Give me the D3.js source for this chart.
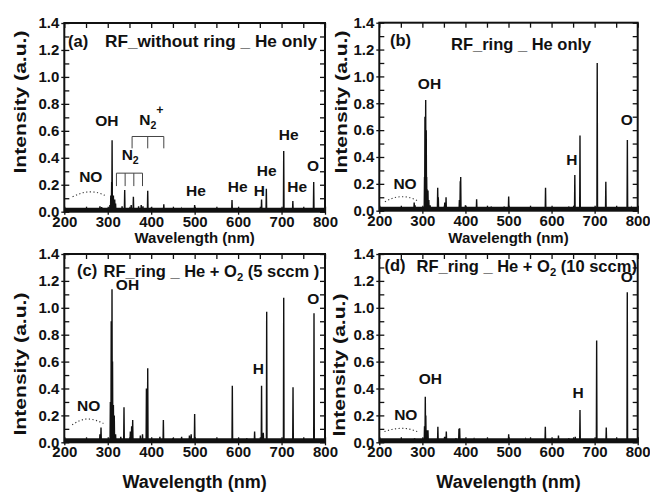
<!DOCTYPE html>
<html><head><meta charset="UTF-8"><title>OES spectra</title>
<script src="https://d3js.org/d3.v7.min.js"></script>
<style>
  body { margin: 0; background: #fff; }
  svg { display: block; }
  text { font-family: "Liberation Sans", Arial, sans-serif; font-weight: bold; fill: #111; }
</style></head><body>
<svg id="chart" width="650" height="493"></svg>
<script>
// axis ticks
const wlTicks = [200, 300, 400, 500, 600, 700, 800];
const wlMinor = [250, 350, 450, 550, 650, 750];
const intTicks = [0, 0.2, 0.4, 0.6, 0.8, 1.0, 1.2, 1.4];
const intMinor = [0.1, 0.3, 0.5, 0.7, 0.9, 1.1, 1.3];

// emission lines: [wavelength nm, intensity a.u.]
const peaksA = [[282, 0.04], [286, 0.035], [305, 0.05], [307, 0.12], [309, 0.22], [310, 0.53], [311, 0.1],
  [313, 0.12], [316, 0.09], [318, 0.06], [333, 0.04], [339, 0.16], [354, 0.05], [359, 0.11], [371, 0.04],
  [377, 0.05], [381, 0.04], [392, 0.155], [400, 0.03], [429, 0.055], [470, 0.02], [500, 0.05], [586, 0.087],
  [654, 0.09], [665, 0.17], [705, 0.45], [726, 0.08], [774, 0.22]];
const peaksB = [[281, 0.06], [283, 0.04], [305, 0.25], [306, 0.7], [307.7, 0.824], [309, 0.6], [310, 0.25],
  [311, 0.16], [313, 0.15], [315, 0.08], [318, 0.04], [335.6, 0.17], [337, 0.1], [352, 0.06], [355, 0.1],
  [386, 0.08], [388, 0.22], [389, 0.25], [400, 0.04], [426, 0.085], [460, 0.03], [490, 0.03], [500.4, 0.105],
  [586, 0.17], [640, 0.03], [654, 0.265], [666, 0.56], [706, 1.10], [726, 0.216], [776, 0.527], [785, 0.02]];
const peaksC = [[282, 0.06], [284.5, 0.11], [306, 0.3], [308, 0.9], [309.8, 1.137], [311, 0.6], [313, 0.277],
  [315, 0.2], [318, 0.06], [330, 0.04], [337.4, 0.26], [352, 0.08], [355, 0.12], [357.4, 0.166], [375, 0.05],
  [380, 0.06], [389, 0.4], [392, 0.55], [420, 0.04], [428, 0.166], [450, 0.03], [470, 0.04], [488, 0.05],
  [492, 0.06], [500, 0.21], [586.7, 0.42], [620, 0.03], [638, 0.08], [654, 0.42], [658, 0.07], [665.8, 0.97],
  [705, 1.075], [726.4, 0.41], [774.7, 0.96]];
const peaksD = [[282, 0.03], [305, 0.12], [306.8, 0.339], [308, 0.2], [310, 0.09], [313, 0.09], [336, 0.116],
  [352, 0.04], [355.6, 0.08], [378, 0.03], [385, 0.1], [386.6, 0.104], [420, 0.02], [500.4, 0.06], [540, 0.02],
  [585.5, 0.116], [616, 0.05], [640, 0.03], [655, 0.04], [666, 0.24], [704.7, 0.756], [727, 0.11], [775.8, 1.115]];

// dotted NO band outline
const noArcA = [[219, 0.11], [240, 0.138], [259, 0.147], [278, 0.14], [294, 0.12]];
const noArcB = [[213, 0.067], [232, 0.094], [252, 0.104], [272, 0.096], [290, 0.072]];
const noArcC = [[218, 0.13], [235, 0.16], [252, 0.173], [271, 0.165], [290, 0.14]];
const noArcD = [[212, 0.08], [231, 0.097], [251, 0.104], [270, 0.098], [288, 0.08]];

// band-head brackets in panel (a)
const n2Bracket = { ticks: [320, 340, 360, 380], top: 0.286, bottom: 0.19 };
const n2pBracket = { ticks: [356, 392, 429], top: 0.558, bottom: 0.47 };

// line labels: parts, wavelength, intensity (label centre)
const labelsA = [
  { parts: [['OH']], w: 298, i: 0.633 },
  { parts: [['N'], ['2', 'sub']], w: 332, i: 0.385, anchor: 'start' },
  { parts: [['N'], ['2', 'sub'], ['+', 'sup']], w: 372.4, i: 0.645, anchor: 'start' },
  { parts: [['NO']], w: 261, i: 0.217 },
  { parts: [['He']], w: 503, i: 0.118 },
  { parts: [['He']], w: 599, i: 0.143 },
  { parts: [['H']], w: 649, i: 0.118 },
  { parts: [['He']], w: 666, i: 0.267 },
  { parts: [['He']], w: 716.5, i: 0.53 },
  { parts: [['He']], w: 736, i: 0.149 },
  { parts: [['O']], w: 772.5, i: 0.305 }
];
const labelsB = [
  { parts: [['OH']], w: 316.5, i: 0.906 },
  { parts: [['NO']], w: 259.7, i: 0.162 },
  { parts: [['H']], w: 647, i: 0.34 },
  { parts: [['O']], w: 774.4, i: 0.638 }
];
const labelsC = [
  { parts: [['OH']], w: 345.4, i: 1.132 },
  { parts: [['NO']], w: 256, i: 0.234 },
  { parts: [['H']], w: 646.5, i: 0.51 },
  { parts: [['O']], w: 773, i: 1.03 }
];
const labelsD = [
  { parts: [['OH']], w: 318.5, i: 0.43 },
  { parts: [['NO']], w: 261.5, i: 0.167 },
  { parts: [['H']], w: 661.8, i: 0.327 },
  { parts: [['O']], w: 774.4, i: 1.19 }
];

const panels = [
  { left: 64.3, right: 325, top: 23, bottom: 211.7, peaks: peaksA, arc: noArcA, labels: labelsA,
    tag: '(a)', tagX: 68, tagY: 46.5, title: [['RF_without ring _ He only']], titleX: 105, titleY: 46.7, titleLen: 212,
    xTitleSize: 15, xTitleY: 243, yTitleX: 20, yTitleY: 102 },
  { left: 379.3, right: 637.7, top: 22.7, bottom: 210.7, peaks: peaksB, arc: noArcB, labels: labelsB,
    tag: '(b)', tagX: 390, tagY: 46, title: [['RF_ring _ He only']], titleX: 451, titleY: 50,
    xTitleSize: 15, xTitleY: 243, yTitleX: 340.5, yTitleY: 102 },
  { left: 64.3, right: 325, top: 254, bottom: 442.3, peaks: peaksC, arc: noArcC, labels: labelsC,
    tag: '(c)', tagX: 77, tagY: 275.5, title: [['RF_ring _ He + O'], ['2', 'sub'], [' (5 sccm )']], titleX: 103.5, titleY: 276.7,
    xTitleSize: 18, xTitleY: 488, yTitleX: 20, yTitleY: 364 },
  { left: 379.3, right: 637.7, top: 254, bottom: 442.3, peaks: peaksD, arc: noArcD, labels: labelsD,
    tag: '(d)', tagX: 384.5, tagY: 271, title: [['RF_ring _ He + O'], ['2', 'sub'], [' (10 sccm)']], titleX: 416.5, titleY: 271.7,
    xTitleSize: 18, xTitleY: 488, yTitleX: 338.5, yTitleY: 365 }
];

const svg = d3.select('#chart');

function richText(sel, parts, size) {
  parts.forEach(([t, mode]) => {
    const ts = sel.append('tspan').text(t);
    if (mode === 'sub') ts.attr('font-size', size * 0.68).attr('dy', size * 0.28);
    else if (mode === 'sup') ts.attr('font-size', size * 0.8).attr('dy', -size * 0.72);
    else ts.attr('dy', 0);
  });
  // restore baseline after shifted tspans
  let shift = 0;
  sel.selectAll('tspan').each(function () {
    const dy = +this.getAttribute('dy');
    this.setAttribute('dy', dy - shift);
    shift = dy;
  });
}

panels.forEach((p, k) => {
  const x = d3.scaleLinear().domain([200, 800]).range([p.left, p.right]);
  const y = d3.scaleLinear().domain([0, 1.4]).range([p.bottom, p.top]);
  const g = svg.append('g');

  g.append('clipPath').attr('id', 'clip' + k).append('rect')
    .attr('x', p.left).attr('y', p.top).attr('width', p.right - p.left).attr('height', p.bottom - p.top);
  const plot = g.append('g').attr('clip-path', `url(#clip${k})`);

  // noisy baseline band
  plot.append('line')
    .attr('x1', x(200)).attr('x2', x(800))
    .attr('y1', y(0) - 2).attr('y2', y(0) - 2)
    .attr('stroke', '#111').attr('stroke-width', 4);

  // spectrum
  const pts = [[200, 0.012]];
  p.peaks.slice().sort((a, b) => a[0] - b[0]).forEach(([w, h]) => {
    pts.push([w - 0.7, 0.012], [w, h], [w + 0.7, 0.012]);
  });
  pts.push([800, 0.012]);
  plot.append('path').datum(pts)
    .attr('d', d3.line().x(d => x(d[0])).y(d => y(d[1])))
    .attr('fill', 'none').attr('stroke', '#111').attr('stroke-width', 1.4).attr('stroke-linejoin', 'miter');

  // NO band (dotted)
  plot.append('path').datum(p.arc)
    .attr('d', d3.line().curve(d3.curveNatural).x(d => x(d[0])).y(d => y(d[1])))
    .attr('fill', 'none').attr('stroke', '#333').attr('stroke-width', 1.1).attr('stroke-dasharray', '1.2,2.4');

  // brackets
  if (k === 0) {
    [n2Bracket, n2pBracket].forEach(b => {
      const path = d3.path();
      path.moveTo(x(b.ticks[0]), y(b.top));
      path.lineTo(x(b.ticks[b.ticks.length - 1]), y(b.top));
      b.ticks.forEach(t => { path.moveTo(x(t), y(b.top)); path.lineTo(x(t), y(b.bottom)); });
      g.append('path').attr('d', path.toString()).attr('fill', 'none').attr('stroke', '#444').attr('stroke-width', 1);
    });
  }

  // axes
  const bottomAx = g.append('g').attr('transform', `translate(0,${p.bottom})`)
    .call(d3.axisBottom(x).tickValues(wlTicks).tickSize(3).tickPadding(1.5).tickFormat(d3.format('d')));
  const leftAx = g.append('g').attr('transform', `translate(${p.left},0)`)
    .call(d3.axisLeft(y).tickValues(intTicks).tickSize(3).tickPadding(2).tickFormat(d3.format('.1f')));
  g.append('g').attr('transform', `translate(0,${p.bottom})`)
    .call(d3.axisBottom(x).tickValues(wlTicks.concat(wlMinor)).tickSize(-5).tickFormat(''));
  g.append('g').attr('transform', `translate(0,${p.top})`)
    .call(d3.axisTop(x).tickValues(wlTicks.concat(wlMinor)).tickSize(-5).tickFormat(''));
  g.append('g').attr('transform', `translate(${p.left},0)`)
    .call(d3.axisLeft(y).tickValues(intTicks.concat(intMinor)).tickSize(-5).tickFormat(''));
  g.append('g').attr('transform', `translate(${p.right},0)`)
    .call(d3.axisRight(y).tickValues(intTicks.concat(intMinor)).tickSize(-5).tickFormat(''));
  g.selectAll('.domain').remove();
  g.selectAll('.tick line').attr('stroke', '#111').attr('stroke-width', 1.3);
  [bottomAx, leftAx].forEach(a => a.selectAll('text')
    .attr('font-size', 15).attr('font-family', '"Liberation Sans", Arial, sans-serif')
    .attr('font-weight', 'bold').attr('fill', '#111'));

  // frame
  g.append('rect').attr('x', p.left).attr('y', p.top)
    .attr('width', p.right - p.left).attr('height', p.bottom - p.top)
    .attr('fill', 'none').attr('stroke', '#111').attr('stroke-width', 2);

  // line labels
  p.labels.forEach(l => {
    const t = g.append('text').attr('x', x(l.w)).attr('y', y(l.i))
      .attr('font-size', 15.5).attr('text-anchor', l.anchor || 'middle');
    const wrap = t.append('tspan').attr('dy', '0.36em');
    richText(wrap, l.parts, 15.5);
  });

  // panel tag and title
  g.append('text').attr('x', p.tagX).attr('y', p.tagY).attr('font-size', 16.5).text(p.tag);
  const title = g.append('text').attr('x', p.titleX).attr('y', p.titleY).attr('font-size', 16.5);
  if (p.titleLen) title.attr('textLength', p.titleLen).attr('lengthAdjust', 'spacingAndGlyphs');
  richText(title, p.title, 16.5);

  // axis titles
  g.append('text').attr('x', (p.left + p.right) / 2).attr('y', p.xTitleY)
    .attr('text-anchor', 'middle').attr('font-size', p.xTitleSize).text('Wavelength (nm)');
  g.append('text').attr('transform', `translate(${p.yTitleX},${p.yTitleY}) rotate(-90)`)
    .attr('text-anchor', 'middle').attr('dy', '0.36em').attr('font-size', 17)
    .attr('textLength', 143).attr('lengthAdjust', 'spacingAndGlyphs').text('Intensity (a.u.)');
});
</script>
</body></html>
